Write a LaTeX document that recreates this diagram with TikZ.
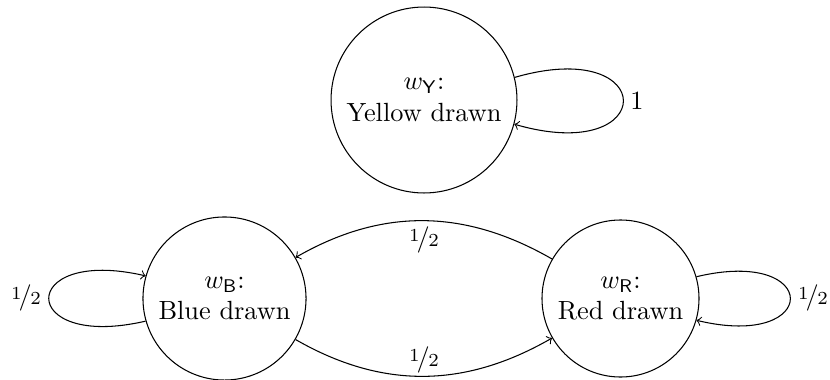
\documentclass[tikz,border=0pt]{standalone}
\usepackage{nicefrac}
\usetikzlibrary{arrows}
\begin{document}
\begin{tikzpicture}[x=0.3802pt,y=-0.3802pt,
  state/.style={draw,circle,inner sep=0pt,align=center},
  lbl/.style={inner sep=0pt},
  conn/.style={->}]
\useasboundingbox (0,0) rectangle (830,379);
\node[state,minimum size=70.7pt] (Y) at (424,100) {$w_{\mathsf{Y}}$:\\Yellow drawn};
\node[state,minimum size=62pt] (B) at (224.5,298.5) {$w_{\mathsf{B}}$:\\Blue drawn};
\node[state,minimum size=59.7pt] (R) at (620.5,298.5) {$w_{\mathsf{R}}$:\\Red drawn};
% loops
\draw[conn] (Y.14) .. controls +(145,-42) and +(145,42) .. (Y.-15);
\draw[conn] (B.196) .. controls +(-129,30) and +(-129,-30) .. (B.164);
\draw[conn] (R.16) .. controls +(125,-30) and +(125,30) .. (R.-16);
% between
\draw[conn] (R.150) .. controls +(-87,-50) and +(87,-50) .. (B.30);
\draw[conn] (B.-30) .. controls +(87,50) and +(-87,50) .. (R.210);
% labels
\node[lbl] (l1) at (637,101) {1};
\node[lbl] (lb) at (26,298) {\nicefrac{1}{2}};
\node[lbl] (lr) at (813,298) {\nicefrac{1}{2}};
\node[lbl] (lt) at (424,240) {\nicefrac{1}{2}};
\node[lbl] (lbo) at (424,360) {\nicefrac{1}{2}};
\end{tikzpicture}
\end{document}
